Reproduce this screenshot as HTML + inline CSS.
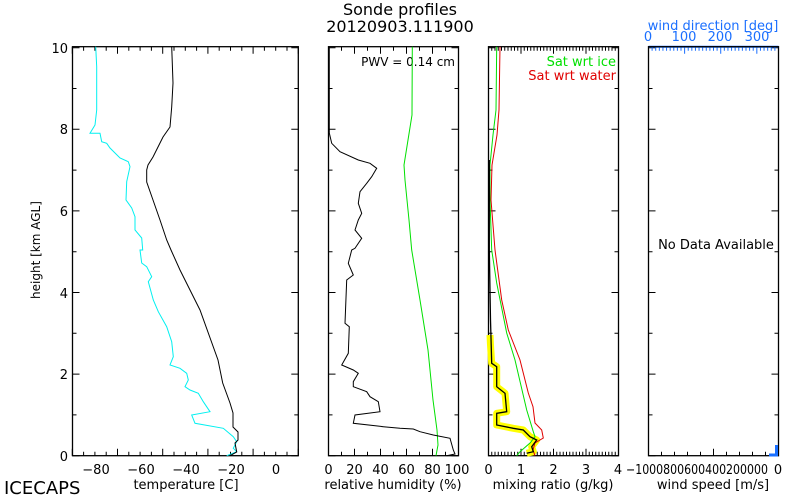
<!DOCTYPE html>
<html><head><style>body{margin:0;background:#fff}svg{display:block}text{font-family:"DejaVu Sans","Liberation Sans",sans-serif}</style></head><body>
<svg width="800" height="500" xmlns="http://www.w3.org/2000/svg">
<rect width="800" height="500" fill="#fff"/>
<text x="400" y="15" font-size="16" text-anchor="middle">Sonde profiles</text>
<text x="400" y="32" font-size="16" text-anchor="middle">20120903.111900</text>
<g id="ticks" stroke="#000" stroke-width="1" fill="none"></g>
<g stroke="#000" stroke-width="1.3" fill="none">
<rect x="72.5" y="46.7" width="225.8" height="409"/>
<rect x="328.5" y="46.7" width="130" height="409"/>
<rect x="488.5" y="46.7" width="130" height="409"/>
<rect x="648.5" y="46.7" width="130" height="409"/>
</g>
<g font-size="13" text-anchor="end">
<text x="68" y="53">10</text><text x="68" y="134">8</text><text x="68" y="216">6</text><text x="68" y="298">4</text><text x="68" y="379">2</text><text x="68" y="461">0</text>
</g>
<text transform="translate(40,250) rotate(-90)" font-size="12" text-anchor="middle">height [km AGL]</text>
<g font-size="13" text-anchor="middle">
<text x="96" y="474">−80</text><text x="141" y="474">−60</text><text x="186" y="474">−40</text><text x="231" y="474">−20</text><text x="276" y="474">0</text>
<text x="328.5" y="474">0</text><text x="354.5" y="474">20</text><text x="380.5" y="474">40</text><text x="406.5" y="474">60</text><text x="432.5" y="474">80</text><text x="457" y="474">100</text>
<text x="488.5" y="474">0</text><text x="521" y="474">1</text><text x="553.5" y="474">2</text><text x="586" y="474">3</text><text x="618" y="474">4</text>
<text x="778" y="474">0</text>
</g>
<text x="626" y="474" font-size="13" textLength="142" lengthAdjust="spacingAndGlyphs">−1000800600400200000</text>
<g font-size="13" text-anchor="middle">
<text x="186" y="489">temperature [C]</text>
<text x="393" y="489">relative humidity (%)</text>
<text x="553" y="489">mixing ratio (g/kg)</text>
<text x="713" y="489">wind speed [m/s]</text>
</g>
<text x="4" y="494" font-size="18">ICECAPS</text>
<g font-size="13" fill="#1a6fff" text-anchor="middle">
<text x="713" y="30">wind direction [deg]</text>
<text x="648" y="41">0</text><text x="684" y="41">100</text><text x="720" y="41">200</text><text x="757" y="41">300</text>
</g>
<text x="455" y="66" font-size="12" text-anchor="end">PWV = 0.14 cm</text>
<text x="616" y="66" font-size="13" text-anchor="end" fill="#00e000">Sat wrt ice</text>
<text x="616" y="80" font-size="13" text-anchor="end" fill="#e00000">Sat wrt water</text>
<text x="716" y="249" font-size="13" text-anchor="middle">No Data Available</text>
<path d="M776.5 445V455H769" stroke="#1a6fff" stroke-width="3" fill="none"/>
<polyline fill="none" stroke="#00f0f0" stroke-width="1" points="95.7,46.7 96.7,66.7 96.7,110 95,125 90,133.3 100,133.3 101.7,141.7 106.7,143.3 110,148 115,153 120,158 128.3,161.7 130,166.7 126.7,181.7 126,200 131.7,208 135,216.7 135,230 141.7,238 142.7,250 140,250 141.7,263 146.7,266.7 151.7,276.7 148.3,281.7 153.3,300 158.3,311.7 166.7,326.7 171.7,341.7 173.3,356.7 170,365 180,368.3 186.7,373.3 188.3,380 185,386.7 190,390 198.3,393.3 203.3,401.7 210,411.7 191.7,415 195,423.3 223.3,428.3 233.3,436.7 236.7,441.7 233.3,448.3 236.7,451.7 226.7,455.7"/>
<polyline fill="none" stroke="#000" stroke-width="1" points="171.7,46.7 173,83 171.7,107 170,127 163,137 160,143 153,157 148,165 146.7,170 146.7,182 153,200 160,220 166.7,240 171,250 180,270 200,310 218,360 222.7,383 230,403 233,413 233,427 238,432 238,440 235,443 236.7,452 230,455.7"/>
<polyline fill="none" stroke="#00e000" stroke-width="1" points="412.3,46.7 412,115 408,140 404,165 405,180 409,220 411.7,250 420,300 428,350 433,400 437,430 438,445 436,455.7"/>
<polyline fill="none" stroke="#000" stroke-width="1" points="329.3,46.7 329.3,133 331.7,143.3 340,151.7 358.3,160 370,163.3 376.7,168.3 371.7,176.7 366.7,183.3 360,191.7 358.3,203.3 361.7,213.3 358.3,220 355,230 361.7,238.3 355,248.3 351.7,250 348.3,263.3 353.3,275 346.7,280 345,323.3 349.3,326.7 348.3,353.3 341.7,365 353.3,370 358.3,373.3 353.3,381.7 353.3,386.7 366.7,391.7 370,396.7 378.3,401.7 380,411.7 355,415 353.3,423.3 383.3,426.7 400,428.3 413.3,429 420,431.7 433.3,435 450,438.3 453.3,450 455,454 446.7,455.7"/>
<polyline fill="none" stroke="#ffff00" stroke-width="7" stroke-linejoin="round" points="490,335 490.5,345 491.7,363.3 496.7,366.7 496.7,386.7 505,393.3 506.7,411.7 496.7,413.3 496.7,425 513.3,428.3 523.3,430 530,436.7 536.7,440 531.7,446.7 533.3,451.7 526.7,453.3"/>
<polyline fill="none" stroke="#e00000" stroke-width="1" points="500,46.7 499,110 497,135 492,165 491,200 495,250 501.7,300 508.3,330 520,360 528.3,393 533,406.7 535,423 541.7,430 543.3,438 535,443 533,450 535,455.7"/>
<polyline fill="none" stroke="#00e000" stroke-width="1" points="496.7,46.7 496,110 493,135 490,165 490,200 491.7,250 496.7,283 506.7,333 515,360 526.7,410 533.3,431.7 535,436.7 530,443 520,451.7 516.7,455.7"/>
<polyline fill="none" stroke="#000" stroke-width="1.3" points="489.3,160 489.3,250 490.5,320 491.7,363.3 496.7,366.7 496.7,386.7 505,393.3 506.7,411.7 496.7,413.3 496.7,425 513.3,428.3 523.3,430 530,436.7 536.7,440 531.7,446.7 533.3,451.7 526.7,453.3"/>
<script>
(function(){var g=document.getElementById('ticks'),d='';
function yt(x,dir){for(var h=0;h<=10;h++){var y=455.7-h*40.8;d+='M'+x+' '+y+'h'+(dir*(h%2?4:7));}}
[[72.5,298.3],[328.5,458.5],[488.5,618.5],[648.5,778.5]].forEach(function(p){yt(p[0],1);yt(p[1],-1);});
function xt(x0,x1,n,maj){for(var i=0;i<=n;i++){var x=x0+(x1-x0)*i/n,l=(i%maj?4:7);d+='M'+x+' 455.7v-'+l+'M'+x+' 46.7v'+l;}}
xt(72.3,298.3,20,4);xt(328.5,458.5,10,2);xt(488.5,618.5,40,10);
for(var i=0;i<=10;i++){var x=648.5+13*i;d+='M'+x+' 455.7v-'+(i%5?4:7);}
var p=document.createElementNS('http://www.w3.org/2000/svg','path');p.setAttribute('d',d);g.appendChild(p);
var b='';for(var k=0;k<=36;k++){var x=648.5+130*k/36;b+='M'+x+' 46.7v'+(k%10?4:7);}
var q=document.createElementNS('http://www.w3.org/2000/svg','path');q.setAttribute('d',b);q.setAttribute('stroke','#1a6fff');g.appendChild(q);
var r=document.createElementNS('http://www.w3.org/2000/svg','path');r.setAttribute('d','M648.5 46.7H778.5');r.setAttribute('stroke','#1a6fff');r.setAttribute('stroke-width','2');g.appendChild(r);
})();
</script>
</svg>
</body></html>
